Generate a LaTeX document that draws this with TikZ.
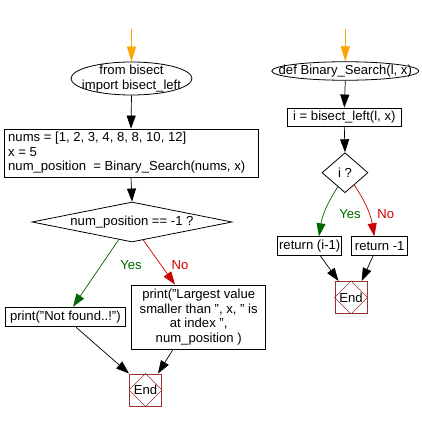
\documentclass[tikz,border=0pt]{standalone}
\usepackage{fontspec}
\setmainfont{Liberation Sans}
\usetikzlibrary{shapes.geometric,arrows.meta,calc}
\definecolor{yesgreen}{HTML}{006600}
\definecolor{nored}{HTML}{CC0000}
\definecolor{endred}{HTML}{993333}
\definecolor{startorange}{HTML}{FFA500}
\tikzset{
  shapeline/.style={draw, line width=0.8pt, inner sep=0pt},
  procbox/.style={shapeline, rectangle},
  termshape/.style={shapeline, ellipse},
  decshape/.style={shapeline, diamond},
  txt/.style={inner sep=0pt, align=center},
  conn/.style={line width=0.7pt, -{Triangle[length=13pt,width=9pt]}},
  startconn/.style={conn, draw=startorange, -{Triangle[length=15pt,width=9pt,fill=startorange]}},
  yesconn/.style={conn, draw=yesgreen, -{Triangle[length=13pt,width=9pt,fill=yesgreen]}},
  noconn/.style={conn, draw=nored, -{Triangle[length=13pt,width=9pt,fill=nored]}},
  endbox/.style={draw=endred, line width=1pt, minimum size=32pt, inner sep=0pt},
  enddiam/.style={draw=endred, line width=0.6pt},
  yeslbl/.style={text=yesgreen, inner sep=0pt},
  nolbl/.style={text=nored, inner sep=0pt}
}
\begin{document}
\begin{tikzpicture}[x=1pt,y=-1pt,font=\fontsize{13.1}{14.5}\selectfont]
\useasboundingbox[fill=white] (0,0) rectangle (422,422);
% ---------- left flow ----------
\coordinate (s1) at (131.5,29);
\node[termshape, minimum width=121pt, minimum height=33pt] (o1) at (131.5,78.5) {};
\node[txt] (o1t) at (o1) {from bisect\\import bisect\_left};
\node[procbox, minimum width=254pt, minimum height=48pt] (b1) at (131,153) {};
\node[txt, align=left, anchor=west] (b1t) at (8,153) {nums = [1, 2, 3, 4, 8, 8, 10, 12]\\x = 5\\num\_position \ = Binary\_Search(nums, x)};
\node[decshape, minimum width=200pt, minimum height=40pt] (d1) at (132,222) {};
\node[txt] (d1t) at (d1) {num\_position == -1 ?};
\node[procbox, minimum width=120.7pt, minimum height=19.7pt] (b2) at (65.4,317) {};
\node[txt] (b2t) at (b2) {print("Not found..!")};
\node[procbox, minimum width=134pt, minimum height=64pt] (b3) at (198.7,317) {};
\node[txt] (b3t) at (b3) {print("Largest value\\smaller than ", x, " is\\at index ",\\num\_position )};
\node[endbox] (e1) at (145.5,390) {};
\node[txt] (e1t) at (e1) {End};
\draw[enddiam] (e1.north) -- (e1.east) -- (e1.south) -- (e1.west) -- cycle;
\node[yeslbl] (y1) at (131,265) {Yes};
\node[nolbl] (n1) at (180,265) {No};

\draw[startconn] (s1) -- (o1.north);
\draw[conn] (o1.south) -- (b1.north);
\draw[conn] (b1.south) -- (d1.north);
\draw[yesconn] (d1.-127) -- ($(b2.north)+(7.6,0)$);
\draw[noconn] (d1.-58) -- ($(b3.north)+(-23.7,0)$);
\draw[conn] ($(b2.south)+(10.6,0)$) -- (e1.north west);
\draw[conn] ($(b3.south)+(-25.7,0)$) -- ($(e1.north)+(12.5,0)$);

% ---------- right flow ----------
\coordinate (s2) at (345.3,29);
\node[termshape, minimum width=147pt, minimum height=18.5pt] (o2) at (345.3,71) {};
\node[txt] (o2t) at (o2) {def Binary\_Search(l, x)};
\node[procbox, minimum width=114.7pt, minimum height=18.7pt] (b4) at (344.3,117.3) {};
\node[txt] (b4t) at (b4) {i = bisect\_left(l, x)};
\node[decshape, minimum width=46pt, minimum height=40pt] (d2) at (345,172.7) {};
\node[txt] (d2t) at (d2) {i ?};
\node[procbox, minimum width=64pt, minimum height=18.3pt] (b5) at (309.7,245.8) {};
\node[txt] (b5t) at (b5) {return (i-1)};
\node[procbox, minimum width=56pt, minimum height=18.3pt] (b6) at (379.7,245.8) {};
\node[txt] (b6t) at (b6) {return -1};
\node[endbox] (e2) at (351,297.5) {};
\node[txt] (e2t) at (e2) {End};
\draw[enddiam] (e2.north) -- (e2.east) -- (e2.south) -- (e2.west) -- cycle;
\node[yeslbl] (y2) at (350,214) {Yes};
\node[nolbl] (n2) at (385.7,214) {No};

\draw[startconn] (s2) -- (o2.north);
\draw[conn] (o2.south) -- (b4.north);
\draw[conn] (b4.south) -- (d2.north);
\draw[yesconn] (d2.-117) to[bend right=12] ($(b5.north)+(9.3,0)$);
\draw[noconn] (d2.-53) to[bend left=12] ($(b6.north)+(-5.4,0)$);
\draw[conn] ($(b5.south)+(10.3,0)$) -- ($(e2.north west)+(4,0)$);
\draw[conn] ($(b6.south)+(-6.4,0)$) -- ($(e2.north)+(10.7,0)$);
\end{tikzpicture}
\end{document}
